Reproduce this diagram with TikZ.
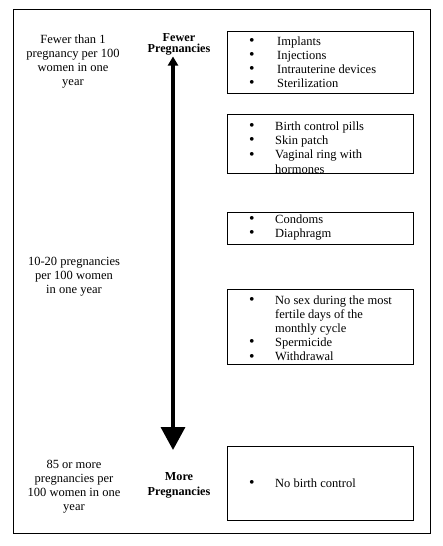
\documentclass[tikz,border=0pt]{standalone}
\usepackage{fontspec}
\setmainfont{Liberation Serif}
\usetikzlibrary{arrows.meta}
\newcommand{\bl}{\raisebox{-0.2pt}{\scalebox{1.25}{\textbullet}}}
\begin{document}
\begin{tikzpicture}[x=1pt,y=-1pt,
  txt/.style={font=\fontsize{12.5}{14.2}\selectfont, inner sep=0pt},
  lefttxt/.style={txt, anchor=base, align=center},
  boldtxt/.style={font=\fontsize{12.2}{14}\selectfont\bfseries, inner sep=0pt, anchor=base},
  listtxt/.style={txt, anchor=base west},
  methodbox/.style={draw, line width=0.9pt, minimum width=186pt, inner sep=0pt},
  frame/.style={draw, line width=1pt},
  scalearrow/.style={line width=3.6pt, {Triangle[width=10pt,length=9pt]}-{Triangle[width=24pt,length=23pt]}}
]
\useasboundingbox (0,0) rectangle (443,546);
\draw[frame] (13,9) rectangle (430,533);

% method boxes
\node[methodbox, minimum height=62pt] (b1) at (320,62.5) {};
\node[methodbox, minimum height=59pt] (b2) at (320,143.5) {};
\node[methodbox, minimum height=32pt] (b3) at (320,228) {};
\node[methodbox, minimum height=75pt] (b4) at (320,326.5) {};
\node[methodbox, minimum height=74pt] (b5) at (320,483) {};

% lists
\node[listtxt] (l1) at (249,45) {\begin{tabular}[t]{@{}p{28pt}@{}l@{}}
\bl & Implants\\ \bl & Injections\\ \bl & Intrauterine devices\\ \bl & Sterilization\end{tabular}};
\node[listtxt] (l2) at (249,130.5) {\begin{tabular}[t]{@{}p{26pt}@{}l@{}}
\bl & Birth control pills\\ \bl & Skin patch\\ \bl & Vaginal ring with\\ & hormones\end{tabular}};
\node[listtxt] (l3) at (249,223.5) {\begin{tabular}[t]{@{}p{26pt}@{}l@{}}
\bl & Condoms\\ \bl & Diaphragm\end{tabular}};
\node[listtxt] (l4) at (249,304) {\begin{tabular}[t]{@{}p{26pt}@{}l@{}}
\bl & No sex during the most\\ & fertile days of the\\ & monthly cycle\\ \bl & Spermicide\\ \bl & Withdrawal\end{tabular}};
\node[listtxt] (l5) at (249,487.5) {\begin{tabular}[t]{@{}p{26pt}@{}l@{}}
\bl & No birth control\end{tabular}};

% left texts
\node[lefttxt] (t1) at (73,43) {\begin{tabular}[t]{@{}c@{}}Fewer than 1\\ pregnancy per 100\\ women in one\\ year\end{tabular}};
\node[lefttxt] (t2) at (74,265) {\begin{tabular}[t]{@{}c@{}}10-20 pregnancies\\ per 100 women\\ in one year\end{tabular}};
\node[lefttxt] (t3) at (74,468) {\begin{tabular}[t]{@{}c@{}}85 or more\\ pregnancies per\\ 100 women in one\\ year\end{tabular}};

% scale labels
\node[boldtxt] (f1) at (179,41) {Fewer};
\node[boldtxt] (f2) at (179,52) {Pregnancies};
\node[boldtxt] (m1) at (179,480.5) {More};
\node[boldtxt] (m2) at (179,495) {Pregnancies};

% arrow
\coordinate (atop) at (173,56.5);
\coordinate (abot) at (173,450);
\draw[scalearrow] (atop) -- (abot);
\end{tikzpicture}
\end{document}
